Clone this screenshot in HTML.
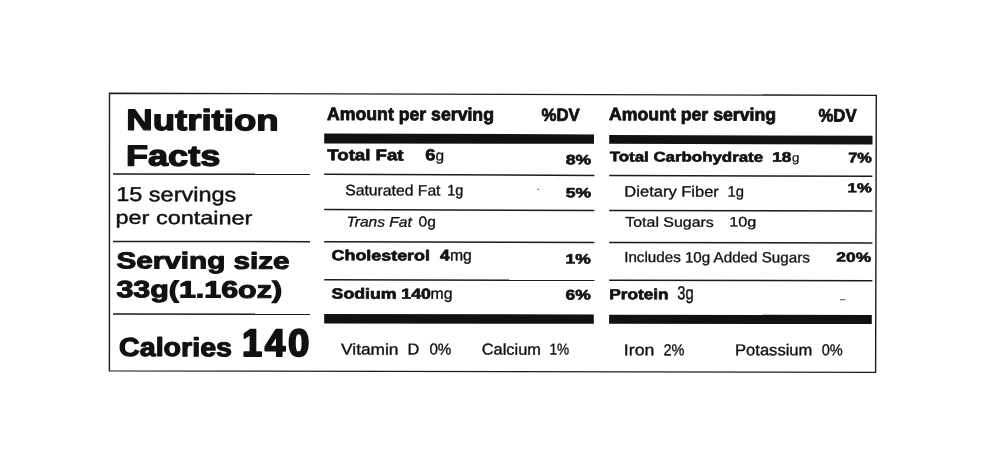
<!DOCTYPE html>
<html><head><meta charset="utf-8"><title>Nutrition Facts</title>
<style>
html,body{margin:0;padding:0;background:#fff;width:986px;height:458px;overflow:hidden}
svg{display:block;will-change:transform}
text{font-family:"Liberation Sans",sans-serif;fill:#111;stroke:#111;stroke-linejoin:round;text-rendering:geometricPrecision}
</style></head><body>
<svg width="986" height="458" viewBox="0 0 986 458">

<polygon points="109.5,93.2 876.3,95.4 875.6,372.35 109.4,370.85" fill="none" stroke="#1c1c1c" stroke-width="1.4"/>
<polygon points="113,173.25 310,173.60 310,175.10 113,174.75" fill="#1c1c1c"/>
<polygon points="113,240.75 310,240.90 310,242.40 113,242.25" fill="#1c1c1c"/>
<polygon points="113,313.25 310,313.45 310,314.95 113,314.75" fill="#1c1c1c"/>
<polygon points="324.2,173.60 594.4,174.70 594.4,176.20 324.2,175.10" fill="#1c1c1c"/>
<polygon points="324.2,208.85 594.4,209.70 594.4,211.20 324.2,210.35" fill="#1c1c1c"/>
<polygon points="324.2,240.90 594.4,241.70 594.4,243.20 324.2,242.40" fill="#1c1c1c"/>
<polygon points="324.2,279.10 594.4,279.60 594.4,281.10 324.2,280.60" fill="#1c1c1c"/>
<polygon points="609.2,174.70 872.4,175.55 872.4,177.05 609.2,176.20" fill="#1c1c1c"/>
<polygon points="609.2,209.70 872.4,210.25 872.4,211.75 609.2,211.20" fill="#1c1c1c"/>
<polygon points="609.2,241.70 872.4,242.25 872.4,243.75 609.2,243.20" fill="#1c1c1c"/>
<polygon points="609.2,279.60 872.4,280.05 872.4,281.55 609.2,281.10" fill="#1c1c1c"/>
<rect x="840" y="299" width="5.3" height="1.3" fill="#777"/>
<circle cx="538.3" cy="189.4" r="0.8" fill="#666"/>
<polygon points="324.2,133.5 594.0,134.4 594.0,143.8 324.2,143.4" fill="#111"/>
<polygon points="324.2,314.0 593.8,314.4 593.8,323.8 324.2,323.4" fill="#111"/>
<polygon points="609.2,135.0 872.5,135.7 872.5,144.5 609.2,143.8" fill="#111"/>
<polygon points="609.1,314.7 871.8,315.0 871.8,324.0 609.1,323.8" fill="#111"/>
<text transform="rotate(0.18 126.30 129.85)" x="126.30" y="129.85" font-size="29.20" font-weight="bold" font-style="normal" textLength="152.26" lengthAdjust="spacingAndGlyphs" stroke-width="1.31">Nutrition</text>
<text transform="rotate(0.18 126.10 165.52)" x="126.10" y="165.52" font-size="28.92" font-weight="bold" font-style="normal" textLength="94.07" lengthAdjust="spacingAndGlyphs" stroke-width="1.30">Facts</text>
<text transform="rotate(0.18 116.27 201.06)" x="116.27" y="201.06" font-size="20.00" font-weight="normal" font-style="normal" textLength="119.95" lengthAdjust="spacingAndGlyphs" stroke-width="0.44">15 servings</text>
<text transform="rotate(0.18 115.51 223.83)" x="115.51" y="223.83" font-size="18.72" font-weight="normal" font-style="normal" textLength="136.94" lengthAdjust="spacingAndGlyphs" stroke-width="0.41">per container</text>
<text transform="rotate(0.18 116.46 268.27)" x="116.46" y="268.27" font-size="23.06" font-weight="bold" font-style="normal" textLength="173.19" lengthAdjust="spacingAndGlyphs" stroke-width="1.04">Serving size</text>
<text transform="rotate(0.18 116.43 297.26)" x="116.43" y="297.26" font-size="23.60" font-weight="bold" font-style="normal" textLength="165.59" lengthAdjust="spacingAndGlyphs" stroke-width="1.06">33g(1.16oz)</text>
<text transform="rotate(0.18 119.12 355.99)" x="119.12" y="355.99" font-size="26.06" font-weight="bold" font-style="normal" textLength="112.88" lengthAdjust="spacingAndGlyphs" stroke-width="1.17">Calories</text>
<text transform="rotate(0.18 242.02 356.05)" x="242.02" y="356.05" font-size="38.35" font-weight="bold" font-style="normal" textLength="20.11" lengthAdjust="spacingAndGlyphs" stroke-width="1.92">1</text>
<text transform="rotate(0.18 264.76 356.05)" x="264.76" y="356.05" font-size="38.35" font-weight="bold" font-style="normal" textLength="20.51" lengthAdjust="spacingAndGlyphs" stroke-width="1.92">4</text>
<text transform="rotate(0.18 288.06 356.05)" x="288.06" y="356.05" font-size="38.35" font-weight="bold" font-style="normal" textLength="21.34" lengthAdjust="spacingAndGlyphs" stroke-width="1.92">0</text>
<text transform="rotate(0.18 327.09 119.94)" x="327.09" y="119.94" font-size="18.01" font-weight="bold" font-style="normal" textLength="166.87" lengthAdjust="spacingAndGlyphs" stroke-width="0.81">Amount per serving</text>
<text transform="rotate(0.18 541.49 120.68)" x="541.49" y="120.68" font-size="17.46" font-weight="bold" font-style="normal" textLength="38.18" lengthAdjust="spacingAndGlyphs" stroke-width="0.79">%DV</text>
<text transform="rotate(0.18 327.30 160.18)" x="327.30" y="160.18" font-size="15.55" font-weight="bold" font-style="normal" textLength="76.21" lengthAdjust="spacingAndGlyphs" stroke-width="0.70">Total Fat</text>
<text transform="rotate(0.18 425.34 160.34)" x="425.34" y="160.34" font-size="15.96" font-weight="bold" font-style="normal" textLength="10.14" lengthAdjust="spacingAndGlyphs" stroke-width="0.72">6</text>
<text transform="rotate(0.18 435.51 160.60)" x="435.51" y="160.60" font-size="14.90" font-weight="normal" font-style="normal" textLength="8.60" lengthAdjust="spacingAndGlyphs" stroke-width="0.33">g</text>
<text transform="rotate(0.18 565.71 164.32)" x="565.71" y="164.32" font-size="13.51" font-weight="bold" font-style="normal" textLength="25.47" lengthAdjust="spacingAndGlyphs" stroke-width="0.61">8%</text>
<text transform="rotate(0.18 345.26 195.30)" x="345.26" y="195.30" font-size="15.07" font-weight="normal" font-style="normal" textLength="95.24" lengthAdjust="spacingAndGlyphs" stroke-width="0.33">Saturated Fat</text>
<text transform="rotate(0.18 447.27 195.28)" x="447.27" y="195.28" font-size="15.07" font-weight="normal" font-style="normal" textLength="16.15" lengthAdjust="spacingAndGlyphs" stroke-width="0.33">1g</text>
<text transform="rotate(0.18 565.78 197.31)" x="565.78" y="197.31" font-size="13.37" font-weight="bold" font-style="normal" textLength="25.35" lengthAdjust="spacingAndGlyphs" stroke-width="0.60">5%</text>
<text transform="rotate(0.18 346.49 226.54)" x="346.49" y="226.54" font-size="14.08" font-weight="normal" font-style="italic" textLength="65.28" lengthAdjust="spacingAndGlyphs" stroke-width="0.31">Trans Fat</text>
<text transform="rotate(0.18 418.59 226.56)" x="418.59" y="226.56" font-size="14.37" font-weight="normal" font-style="normal" textLength="17.32" lengthAdjust="spacingAndGlyphs" stroke-width="0.32">0g</text>
<text transform="rotate(0.18 331.57 260.29)" x="331.57" y="260.29" font-size="14.60" font-weight="bold" font-style="normal" textLength="98.38" lengthAdjust="spacingAndGlyphs" stroke-width="0.66">Cholesterol</text>
<text transform="rotate(0.18 440.14 260.47)" x="440.14" y="260.47" font-size="15.55" font-weight="bold" font-style="normal" textLength="9.68" lengthAdjust="spacingAndGlyphs" stroke-width="0.70">4</text>
<text transform="rotate(0.18 449.90 260.55)" x="449.90" y="260.55" font-size="15.81" font-weight="normal" font-style="normal" textLength="21.90" lengthAdjust="spacingAndGlyphs" stroke-width="0.35">mg</text>
<text transform="rotate(0.18 565.64 263.50)" x="565.64" y="263.50" font-size="13.64" font-weight="bold" font-style="normal" textLength="25.22" lengthAdjust="spacingAndGlyphs" stroke-width="0.61">1%</text>
<text transform="rotate(0.18 331.64 298.56)" x="331.64" y="298.56" font-size="14.60" font-weight="bold" font-style="normal" textLength="99.25" lengthAdjust="spacingAndGlyphs" stroke-width="0.66">Sodium 140</text>
<text transform="rotate(0.18 430.61 298.65)" x="430.61" y="298.65" font-size="15.45" font-weight="normal" font-style="normal" textLength="22.05" lengthAdjust="spacingAndGlyphs" stroke-width="0.34">mg</text>
<text transform="rotate(0.18 565.63 299.55)" x="565.63" y="299.55" font-size="13.92" font-weight="bold" font-style="normal" textLength="25.26" lengthAdjust="spacingAndGlyphs" stroke-width="0.63">6%</text>
<text transform="rotate(0.18 341.09 354.56)" x="341.09" y="354.56" font-size="15.77" font-weight="normal" font-style="normal" textLength="57.43" lengthAdjust="spacingAndGlyphs" stroke-width="0.35">Vitamin</text>
<text transform="rotate(0.18 407.54 354.57)" x="407.54" y="354.57" font-size="15.77" font-weight="normal" font-style="normal" textLength="11.79" lengthAdjust="spacingAndGlyphs" stroke-width="0.35">D</text>
<text transform="rotate(0.18 429.39 354.57)" x="429.39" y="354.57" font-size="15.77" font-weight="normal" font-style="normal" textLength="21.98" lengthAdjust="spacingAndGlyphs" stroke-width="0.35">0%</text>
<text transform="rotate(0.18 481.77 354.57)" x="481.77" y="354.57" font-size="15.77" font-weight="normal" font-style="normal" textLength="59.22" lengthAdjust="spacingAndGlyphs" stroke-width="0.35">Calcium</text>
<text transform="rotate(0.18 549.44 354.57)" x="549.44" y="354.57" font-size="15.77" font-weight="normal" font-style="normal" textLength="19.73" lengthAdjust="spacingAndGlyphs" stroke-width="0.35">1%</text>
<text transform="rotate(0.18 609.07 120.10)" x="609.07" y="120.10" font-size="17.74" font-weight="bold" font-style="normal" textLength="166.99" lengthAdjust="spacingAndGlyphs" stroke-width="0.80">Amount per serving</text>
<text transform="rotate(0.18 818.46 121.49)" x="818.46" y="121.49" font-size="18.01" font-weight="bold" font-style="normal" textLength="38.15" lengthAdjust="spacingAndGlyphs" stroke-width="0.81">%DV</text>
<text transform="rotate(0.18 609.74 161.33)" x="609.74" y="161.33" font-size="13.78" font-weight="bold" font-style="normal" textLength="153.36" lengthAdjust="spacingAndGlyphs" stroke-width="0.62">Total Carbohydrate</text>
<text transform="rotate(0.18 772.34 161.70)" x="772.34" y="161.70" font-size="13.78" font-weight="bold" font-style="normal" textLength="19.09" lengthAdjust="spacingAndGlyphs" stroke-width="0.62">18</text>
<text transform="rotate(0.18 791.96 161.87)" x="791.96" y="161.87" font-size="12.36" font-weight="normal" font-style="normal" textLength="7.38" lengthAdjust="spacingAndGlyphs" stroke-width="0.27">g</text>
<text transform="rotate(0.18 848.16 162.50)" x="848.16" y="162.50" font-size="14.05" font-weight="bold" font-style="normal" textLength="23.64" lengthAdjust="spacingAndGlyphs" stroke-width="0.63">7%</text>
<text transform="rotate(0.18 624.36 196.41)" x="624.36" y="196.41" font-size="14.93" font-weight="normal" font-style="normal" textLength="94.53" lengthAdjust="spacingAndGlyphs" stroke-width="0.33">Dietary Fiber</text>
<text transform="rotate(0.18 727.54 196.41)" x="727.54" y="196.41" font-size="14.93" font-weight="normal" font-style="normal" textLength="16.48" lengthAdjust="spacingAndGlyphs" stroke-width="0.33">1g</text>
<text transform="rotate(0.18 847.64 192.16)" x="847.64" y="192.16" font-size="12.96" font-weight="bold" font-style="normal" textLength="24.14" lengthAdjust="spacingAndGlyphs" stroke-width="0.58">1%</text>
<text transform="rotate(0.18 625.32 226.64)" x="625.32" y="226.64" font-size="13.80" font-weight="normal" font-style="normal" textLength="88.50" lengthAdjust="spacingAndGlyphs" stroke-width="0.30">Total Sugars</text>
<text transform="rotate(0.18 729.20 226.42)" x="729.20" y="226.42" font-size="13.80" font-weight="normal" font-style="normal" textLength="27.02" lengthAdjust="spacingAndGlyphs" stroke-width="0.30">10g</text>
<text transform="rotate(0.18 624.21 261.94)" x="624.21" y="261.94" font-size="14.65" font-weight="normal" font-style="normal" textLength="185.58" lengthAdjust="spacingAndGlyphs" stroke-width="0.32">Includes 10g Added Sugars</text>
<text transform="rotate(0.18 836.38 261.61)" x="836.38" y="261.61" font-size="13.10" font-weight="bold" font-style="normal" textLength="34.73" lengthAdjust="spacingAndGlyphs" stroke-width="0.59">20%</text>
<text transform="rotate(0.18 609.29 299.16)" x="609.29" y="299.16" font-size="14.60" font-weight="bold" font-style="normal" textLength="59.27" lengthAdjust="spacingAndGlyphs" stroke-width="0.66">Protein</text>
<text transform="rotate(0.18 677.24 299.31)" x="677.24" y="299.31" font-size="18.73" font-weight="normal" font-style="normal" textLength="16.38" lengthAdjust="spacingAndGlyphs" stroke-width="0.41">3g</text>
<text transform="rotate(0.18 623.86 355.16)" x="623.86" y="355.16" font-size="15.77" font-weight="normal" font-style="normal" textLength="30.41" lengthAdjust="spacingAndGlyphs" stroke-width="0.35">Iron</text>
<text transform="rotate(0.18 663.50 355.16)" x="663.50" y="355.16" font-size="15.77" font-weight="normal" font-style="normal" textLength="21.09" lengthAdjust="spacingAndGlyphs" stroke-width="0.35">2%</text>
<text transform="rotate(0.18 735.01 355.15)" x="735.01" y="355.15" font-size="15.77" font-weight="normal" font-style="normal" textLength="77.41" lengthAdjust="spacingAndGlyphs" stroke-width="0.35">Potassium</text>
<text transform="rotate(0.18 821.65 355.16)" x="821.65" y="355.16" font-size="15.77" font-weight="normal" font-style="normal" textLength="21.04" lengthAdjust="spacingAndGlyphs" stroke-width="0.35">0%</text>
</svg></body></html>
